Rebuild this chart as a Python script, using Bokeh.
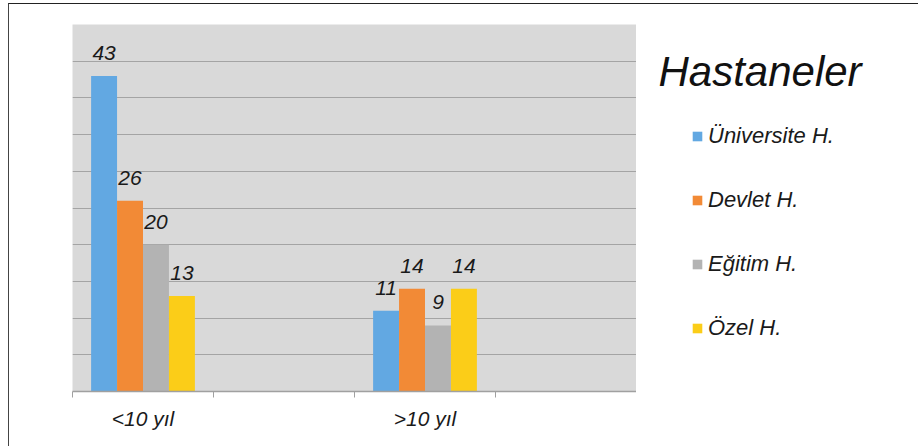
from bokeh.plotting import figure
from bokeh.models import (ColumnDataSource, Range1d, FixedTicker, Legend, LegendItem,
                          Label)
from bokeh.layouts import row
from bokeh.core.properties import value
from bokeh.embed import file_html
from bokeh.resources import INLINE

# ---- data ----
categories = ["<10 yıl", ">10 yıl"]
series = ["Üniversite H.", "Devlet H.", "Eğitim H.", "Özel H."]
universite = [43, 11]
devlet = [26, 14]
egitim = [20, 9]
ozel = [13, 14]
colors = ["#62a8e2", "#f28a36", "#b3b3b3", "#fbcd18"]
legend_title = "Hastaneler"

values_by_series = [universite, devlet, egitim, ozel]

FONT = "Liberation Sans"
n_slots = 2 * len(categories)          # each category followed by an empty slot
centers = [2 * i + 0.5 for i in range(len(categories))]
bar_w = 0.184
offsets = [(-1.5 + k) * bar_w for k in range(len(series))]

BT, BB = 20, 55   # shared top / bottom borders (frames of a row are aligned)

p = figure(width=627, height=442, output_backend="svg", toolbar_location=None,
           x_range=Range1d(0, n_slots), y_range=Range1d(0, 50),
           min_border_left=63, min_border_right=0, min_border_top=BT,
           min_border_bottom=BB)
p.outline_line_color = None
p.background_fill_color = "#d9d9d9"
p.border_fill_color = "white"

# legend-only panel on the right
p2 = figure(width=282, height=442, output_backend="svg", toolbar_location=None,
            x_range=Range1d(0, 1), y_range=Range1d(0, 1),
            x_axis_location=None, y_axis_location=None, title=None,
            min_border_left=0, min_border_right=0, min_border_top=BT,
            min_border_bottom=BB)
p2.grid.visible = False
p2.outline_line_color = None

items = []
for k, name in enumerate(series):
    xs = [c + offsets[k] for c in centers]
    src = ColumnDataSource(dict(x=xs, top=values_by_series[k],
                                lab=[str(v) for v in values_by_series[k]]))
    p.vbar(x="x", top="top", width=bar_w, bottom=0, source=src,
           fill_color=colors[k], line_color=None)
    p.text(x="x", y="top", text="lab", source=src, text_align="center",
           text_baseline="alphabetic", y_offset=-23, text_font=value(FONT),
           text_font_style="italic", text_font_size="21px", text_color="#1a1a1a")
    # zero-size swatch renderer used only for the legend
    lr = p2.vbar(x=[-5], top=[0], bottom=[0], width=0.1, fill_color=colors[k],
                 line_color=None)
    items.append(LegendItem(label=name, renderers=[lr]))

# grid
p.xgrid.visible = False
p.ygrid.ticker = FixedTicker(ticks=list(range(0, 51, 5)))
p.ygrid.grid_line_color = "#a4a4a4"
p.ygrid.grid_line_width = 1

# axes
p.yaxis.visible = False
xa = p.xaxis[0]
xa.ticker = FixedTicker(ticks=centers, minor_ticks=list(range(0, n_slots + 1)))
xa.major_label_overrides = {c: lab for c, lab in zip(centers, categories)}
xa.major_tick_out = 0
xa.major_tick_in = 0
xa.minor_tick_out = 6
xa.minor_tick_in = 0
xa.minor_tick_line_color = "#a0a0a0"
xa.axis_line_color = "#a0a0a0"
xa.axis_line_width = 1.5
xa.major_label_standoff = 9
xa.major_label_text_font = FONT
xa.major_label_text_font_style = "italic"
xa.major_label_text_font_size = "21px"
xa.major_label_text_color = "#1a1a1a"

# legend
legend = Legend(items=items, location=(55, 50), orientation="vertical",
                glyph_width=12, glyph_height=12, label_height=24,
                label_standoff=5, spacing=38, padding=0, margin=0,
                border_line_color=None, background_fill_alpha=0,
                label_text_font=FONT, label_text_font_style="italic",
                label_text_font_size="22px", label_text_color="#1a1a1a")
p2.add_layout(legend, "center")

title = Label(x=22, y=320, x_units="screen", y_units="screen", text=legend_title,
              text_font=FONT, text_font_style="italic", text_font_size="42px",
              text_color="#111111", text_baseline="alphabetic")
p2.add_layout(title)

layout = row(p, p2)
layout.styles = {"margin-left": "8px", "margin-top": "3px",
                 "border-left": "1px solid #444", "border-top": "1px solid #222",
                 "border-bottom": "1px solid #9a9a9a"}

open("out.html", "w").write(file_html(layout, INLINE))
